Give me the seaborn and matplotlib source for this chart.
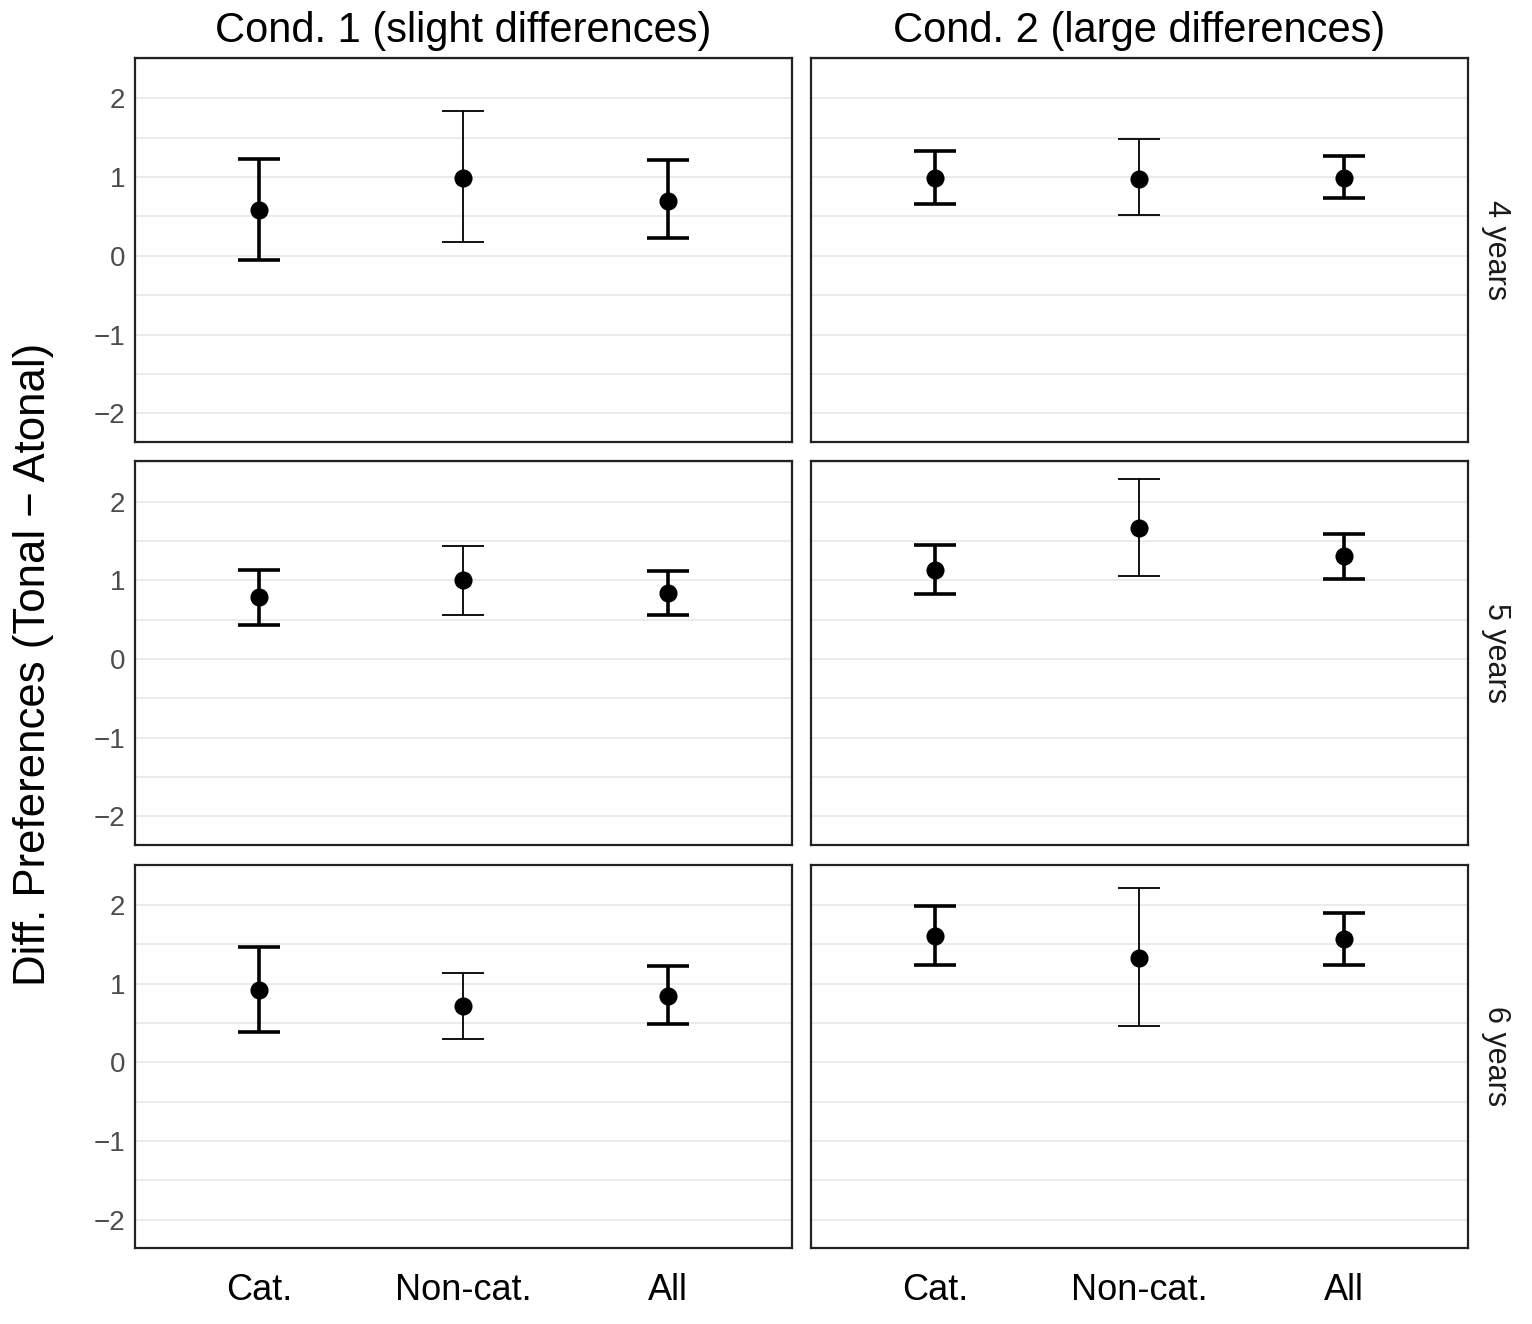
import numpy as np
import pandas as pd
import matplotlib.pyplot as plt
from matplotlib.ticker import MultipleLocator
import seaborn as sns

# categories
groups = ["Cat.", "Non-cat.", "All"]
conditions = ["Cond. 1 (slight differences)", "Cond. 2 (large differences)"]
ages = ["4 years", "5 years", "6 years"]

# values, one row per age (4, 5, 6 years), columns = groups
mean_c1 = [[0.58, 0.99, 0.70], [0.79, 1.01, 0.84], [0.92, 0.71, 0.84]]
low_c1 = [[-0.05, 0.18, 0.22], [0.43, 0.56, 0.56], [0.38, 0.29, 0.48]]
high_c1 = [[1.23, 1.84, 1.22], [1.13, 1.44, 1.12], [1.46, 1.14, 1.22]]

mean_c2 = [[0.99, 0.97, 0.99], [1.13, 1.67, 1.31], [1.61, 1.33, 1.57]]
low_c2 = [[0.66, 0.52, 0.73], [0.83, 1.06, 1.02], [1.24, 0.46, 1.24]]
high_c2 = [[1.33, 1.48, 1.27], [1.45, 2.29, 1.59], [1.99, 2.22, 1.90]]

# build a long table
rows = []
for cond, m, lo, hi in [(conditions[0], mean_c1, low_c1, high_c1),
                        (conditions[1], mean_c2, low_c2, high_c2)]:
    for i, age in enumerate(ages):
        for j, grp in enumerate(groups):
            rows.append({"cond": cond, "age": age, "group": grp,
                         "mean": m[i][j], "low": lo[i][j], "high": hi[i][j]})
df = pd.DataFrame(rows)

sns.set_style("white")
plt.rcParams["font.family"] = ["Liberation Sans", "DejaVu Sans"]

# thicker error bars for Cat. and All
bar_width = {"Cat.": 2.6, "Non-cat.": 1.3, "All": 2.6}

fig, axes = plt.subplots(3, 2, figsize=(15.32, 13.24), dpi=100, sharex=True, sharey=True)
fig.subplots_adjust(left=0.088, right=0.958, top=0.956, bottom=0.0574,
                    wspace=0.029, hspace=0.052)

for r, age in enumerate(ages):
    for c, cond in enumerate(conditions):
        ax = axes[r, c]
        sub = df[(df["age"] == age) & (df["cond"] == cond)]
        pos = np.arange(len(groups))
        for k, grp in enumerate(groups):
            row = sub[sub["group"] == grp].iloc[0]
            ax.errorbar(pos[k], row["mean"],
                        yerr=[[row["mean"] - row["low"]], [row["high"] - row["mean"]]],
                        fmt="none", ecolor="black", elinewidth=bar_width[grp],
                        capsize=15, capthick=bar_width[grp], zorder=3)
        sns.pointplot(data=sub, x="group", y="mean", order=groups, ax=ax,
                      color="black", linestyle="none", errorbar=None,
                      markersize=11, zorder=4)

        ax.set_xlim(-0.607, 2.607)
        ax.set_ylim(-2.36, 2.51)
        ax.yaxis.set_major_locator(MultipleLocator(1))
        ax.yaxis.set_minor_locator(MultipleLocator(0.5))
        ax.grid(axis="y", which="both", color="#ebebeb", linewidth=1.4)
        ax.grid(axis="x", visible=False)
        ax.set_axisbelow(True)
        for sp in ax.spines.values():
            sp.set_visible(True)
            sp.set_color("#222222")
            sp.set_linewidth(1.6)
        ax.set_xlabel("")
        ax.set_ylabel("")

        ax.tick_params(axis="y", which="major", labelsize=20, labelcolor="#4d4d4d",
                       length=4 if c == 0 else 0, width=1.3, color="#333333", pad=3)
        ax.tick_params(axis="x", which="major", labelsize=26, labelcolor="black",
                       length=4 if r == 2 else 0, width=1.3, color="#333333", pad=14)
        ax.tick_params(which="minor", length=0)

        if r == 0:
            ax.set_title(cond, fontsize=30, pad=12, color="black")
        if c == 1:
            ax.text(1.02, 0.5, age, transform=ax.transAxes, rotation=270,
                    ha="left", va="center", fontsize=22, color="#1a1a1a")

fig.text(0.022, 0.498, "Diff. Preferences (Tonal \u2212 Atonal)", rotation=90,
         ha="center", va="center", fontsize=31.5, color="black")

plt.savefig("out.png", dpi=100)
